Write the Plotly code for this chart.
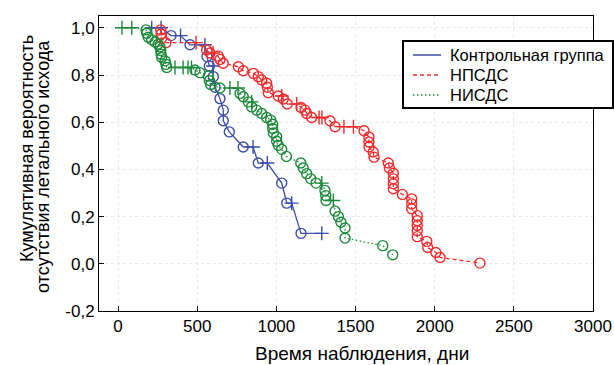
import plotly.graph_objects as go

# ---- data (time in days, cumulative survival, marker kind: 1 = event, 0 = censored) ----
ctrl_t = [213, 272, 335, 395, 455, 549, 562, 577, 600, 602, 613, 644, 665, 665, 703, 791, 853, 886, 943, 1034, 1066, 1097, 1156, 1287]
ctrl_s = [1.0, 1.0, 0.967, 0.967, 0.928, 0.928, 0.878, 0.838, 0.838, 0.793, 0.748, 0.70, 0.651, 0.606, 0.559, 0.495, 0.495, 0.427, 0.427, 0.342, 0.257, 0.257, 0.129, 0.129]
ctrl_e = [0, 0, 1, 0, 1, 0, 1, 1, 0, 1, 1, 1, 1, 1, 1, 1, 0, 1, 0, 1, 1, 0, 1, 0]

npsds_t = [270, 272, 276, 303, 493, 560, 581, 600, 633, 644, 665, 760, 791, 855, 886, 908, 939, 943, 949, 1012,
           1034, 1044, 1069, 1129, 1156, 1181, 1192, 1223, 1270, 1288, 1339, 1371, 1427, 1487, 1554, 1585, 1585, 1585,
           1612, 1617, 1707, 1714, 1739, 1739, 1739, 1739, 1796, 1855, 1855, 1855, 1890, 1890, 1890, 1890, 1890,
           1950, 1956, 2008, 2034, 2286]
npsds_s = [0.991, 0.974, 0.956, 0.937, 0.937, 0.906, 0.893, 0.893, 0.880, 0.866, 0.850, 0.835, 0.818, 0.807, 0.793, 0.779, 0.765, 0.748, 0.725, 0.711,
           0.711, 0.698, 0.677, 0.677, 0.662, 0.651, 0.637, 0.620, 0.620, 0.620, 0.606, 0.581, 0.581, 0.581, 0.564, 0.537, 0.516, 0.495,
           0.474, 0.452, 0.427, 0.406, 0.384, 0.360, 0.339, 0.318, 0.294, 0.275, 0.254, 0.233, 0.204, 0.183, 0.162, 0.140, 0.115,
           0.095, 0.069, 0.048, 0.027, 0.003]
npsds_e = [1, 1, 1, 1, 0, 1, 1, 0, 1, 1, 1, 1, 1, 1, 1, 1, 1, 1, 1, 1,
           0, 1, 1, 0, 1, 1, 1, 1, 0, 0, 1, 1, 0, 0, 1, 1, 1, 1,
           1, 1, 1, 1, 1, 1, 1, 1, 1, 1, 1, 1, 1, 1, 1, 1, 1,
           1, 1, 1, 1, 1]

nisds_t = [25, 87, 177, 181, 191, 213, 234, 253, 265, 270, 272, 276, 297, 303, 308, 360, 411, 442, 464, 486,
           518, 570, 577, 585, 644, 707, 758, 771, 791, 823, 844, 844, 876, 908, 939, 964, 977, 977, 981, 1002,
           1002, 1012, 1034, 1064, 1154, 1170, 1192, 1217, 1251, 1287, 1307, 1312, 1314, 1360, 1371, 1392, 1408,
           1434, 1434, 1672, 1735]
nisds_s = [1.0, 1.0, 0.991, 0.977, 0.960, 0.949, 0.940, 0.930, 0.919, 0.904, 0.888, 0.874, 0.860, 0.845, 0.832, 0.832, 0.832, 0.832, 0.832, 0.821,
           0.810, 0.796, 0.777, 0.760, 0.745, 0.745, 0.745, 0.722, 0.708, 0.686, 0.686, 0.665, 0.651, 0.637, 0.620, 0.609, 0.591, 0.573, 0.554, 0.538,
           0.519, 0.502, 0.485, 0.455, 0.427, 0.406, 0.382, 0.360, 0.342, 0.342, 0.311, 0.289, 0.268, 0.268, 0.223, 0.200, 0.176,
           0.152, 0.109, 0.077, 0.038]
nisds_e = [0, 0, 1, 1, 1, 1, 1, 1, 1, 1, 1, 1, 1, 1, 1, 0, 0, 0, 0, 1,
           1, 1, 1, 1, 1, 0, 0, 1, 1, 1, 0, 1, 1, 1, 1, 1, 1, 1, 1, 1,
           1, 1, 1, 1, 1, 1, 1, 1, 1, 0, 1, 1, 1, 0, 1, 1, 1,
           1, 1, 1, 1]

series_names = ["Контрольная группа", "НПСДС", "НИСДС"]
y_tickvals = [-0.2, 0.0, 0.2, 0.4, 0.6, 0.8, 1.0]
y_ticktext = ["-0,2", "0,0", "0,2", "0,4", "0,6", "0,8", "1,0"]
x_tickvals = [0, 500, 1000, 1500, 2000, 2500, 3000]
x_title = "Время наблюдения, дни"
y_title_lines = ["Кумулятивная вероятность", "отсутствия летального исхода"]

colors = ["#3A4DA8", "#F22A2A", "#1B8A3A"]
dashes = ["solid", "4px,3px", "1.5px,2.5px"]
FONT = "Arial, Liberation Sans, sans-serif"

FIG_W, FIG_H = 614, 365
L, R, T, B = 99, 593, 16, 311
W, H = R - L, B - T
def px(xs):
    return (xs - L) / W
def py(ys):
    return (B - ys) / H

fig = go.Figure()
for name, t, s, e, c, d in zip(series_names,
                               [ctrl_t, npsds_t, nisds_t],
                               [ctrl_s, npsds_s, nisds_s],
                               [ctrl_e, npsds_e, nisds_e],
                               colors, dashes):
    fig.add_trace(go.Scatter(
        x=t, y=s, mode="lines+markers", name=name, showlegend=False,
        line=dict(color=c, width=1.3, dash=d),
        marker=dict(symbol=["circle-open" if k else "cross-thin-open" for k in e],
                    size=10, color=c,
                    line=dict(color=c, width=1.4)),
    ))

axis_common = dict(showline=True, linecolor="black", linewidth=1, mirror=True,
                   ticks="inside", ticklen=5, tickcolor="black",
                   showgrid=True, gridcolor="#E8E8E8", griddash="dot", gridwidth=1,
                   zeroline=False, automargin=False,
                   tickfont=dict(family=FONT, size=17, color="black"))

shapes = []
annotations = []
# manual legend (box + line samples + labels)
shapes.append(dict(type="rect", xref="paper", yref="paper",
                   x0=px(403), x1=px(613), y0=py(108), y1=py(41),
                   line=dict(color="black", width=2), fillcolor="white", layer="above"))
for i, (name, c, d) in enumerate(zip(series_names, colors, dashes)):
    yy = 55 + 20 * i
    shapes.append(dict(type="line", xref="paper", yref="paper",
                       x0=px(413), x1=px(441), y0=py(yy), y1=py(yy),
                       line=dict(color=c, width=1.5, dash=d), layer="above"))
    annotations.append(dict(text=name, xref="paper", yref="paper", x=px(448), y=py(yy),
                            xanchor="left", yanchor="middle", showarrow=False,
                            font=dict(family=FONT, size=16.5, color="black")))
# axis titles
annotations.append(dict(text=x_title, xref="paper", yref="paper", x=px(362), y=py(353),
                        xanchor="center", yanchor="middle", showarrow=False,
                        font=dict(family=FONT, size=19, color="black")))
for xx, yc, txt in zip([27, 43], [149, 167], y_title_lines):
    annotations.append(dict(text=txt, xref="paper", yref="paper", x=px(xx), y=py(yc),
                            xanchor="center", yanchor="middle", textangle=-90, showarrow=False,
                            font=dict(family=FONT, size=18, color="black")))

fig.update_layout(
    width=FIG_W, height=FIG_H,
    margin=dict(l=L, r=FIG_W - R, t=T, b=FIG_H - B),
    paper_bgcolor="white", plot_bgcolor="white",
    font=dict(family=FONT, size=18, color="black"),
    showlegend=False,
    xaxis=dict(range=[-120, 3000], tickvals=x_tickvals, **axis_common),
    yaxis=dict(range=[-0.2, 1.05], tickvals=y_tickvals, ticktext=y_ticktext, **axis_common),
    shapes=shapes, annotations=annotations,
)

fig.write_html("out.html", config={"displayModeBar": False},
               post_script="document.body.style.margin='0';document.body.style.overflow='hidden';")
